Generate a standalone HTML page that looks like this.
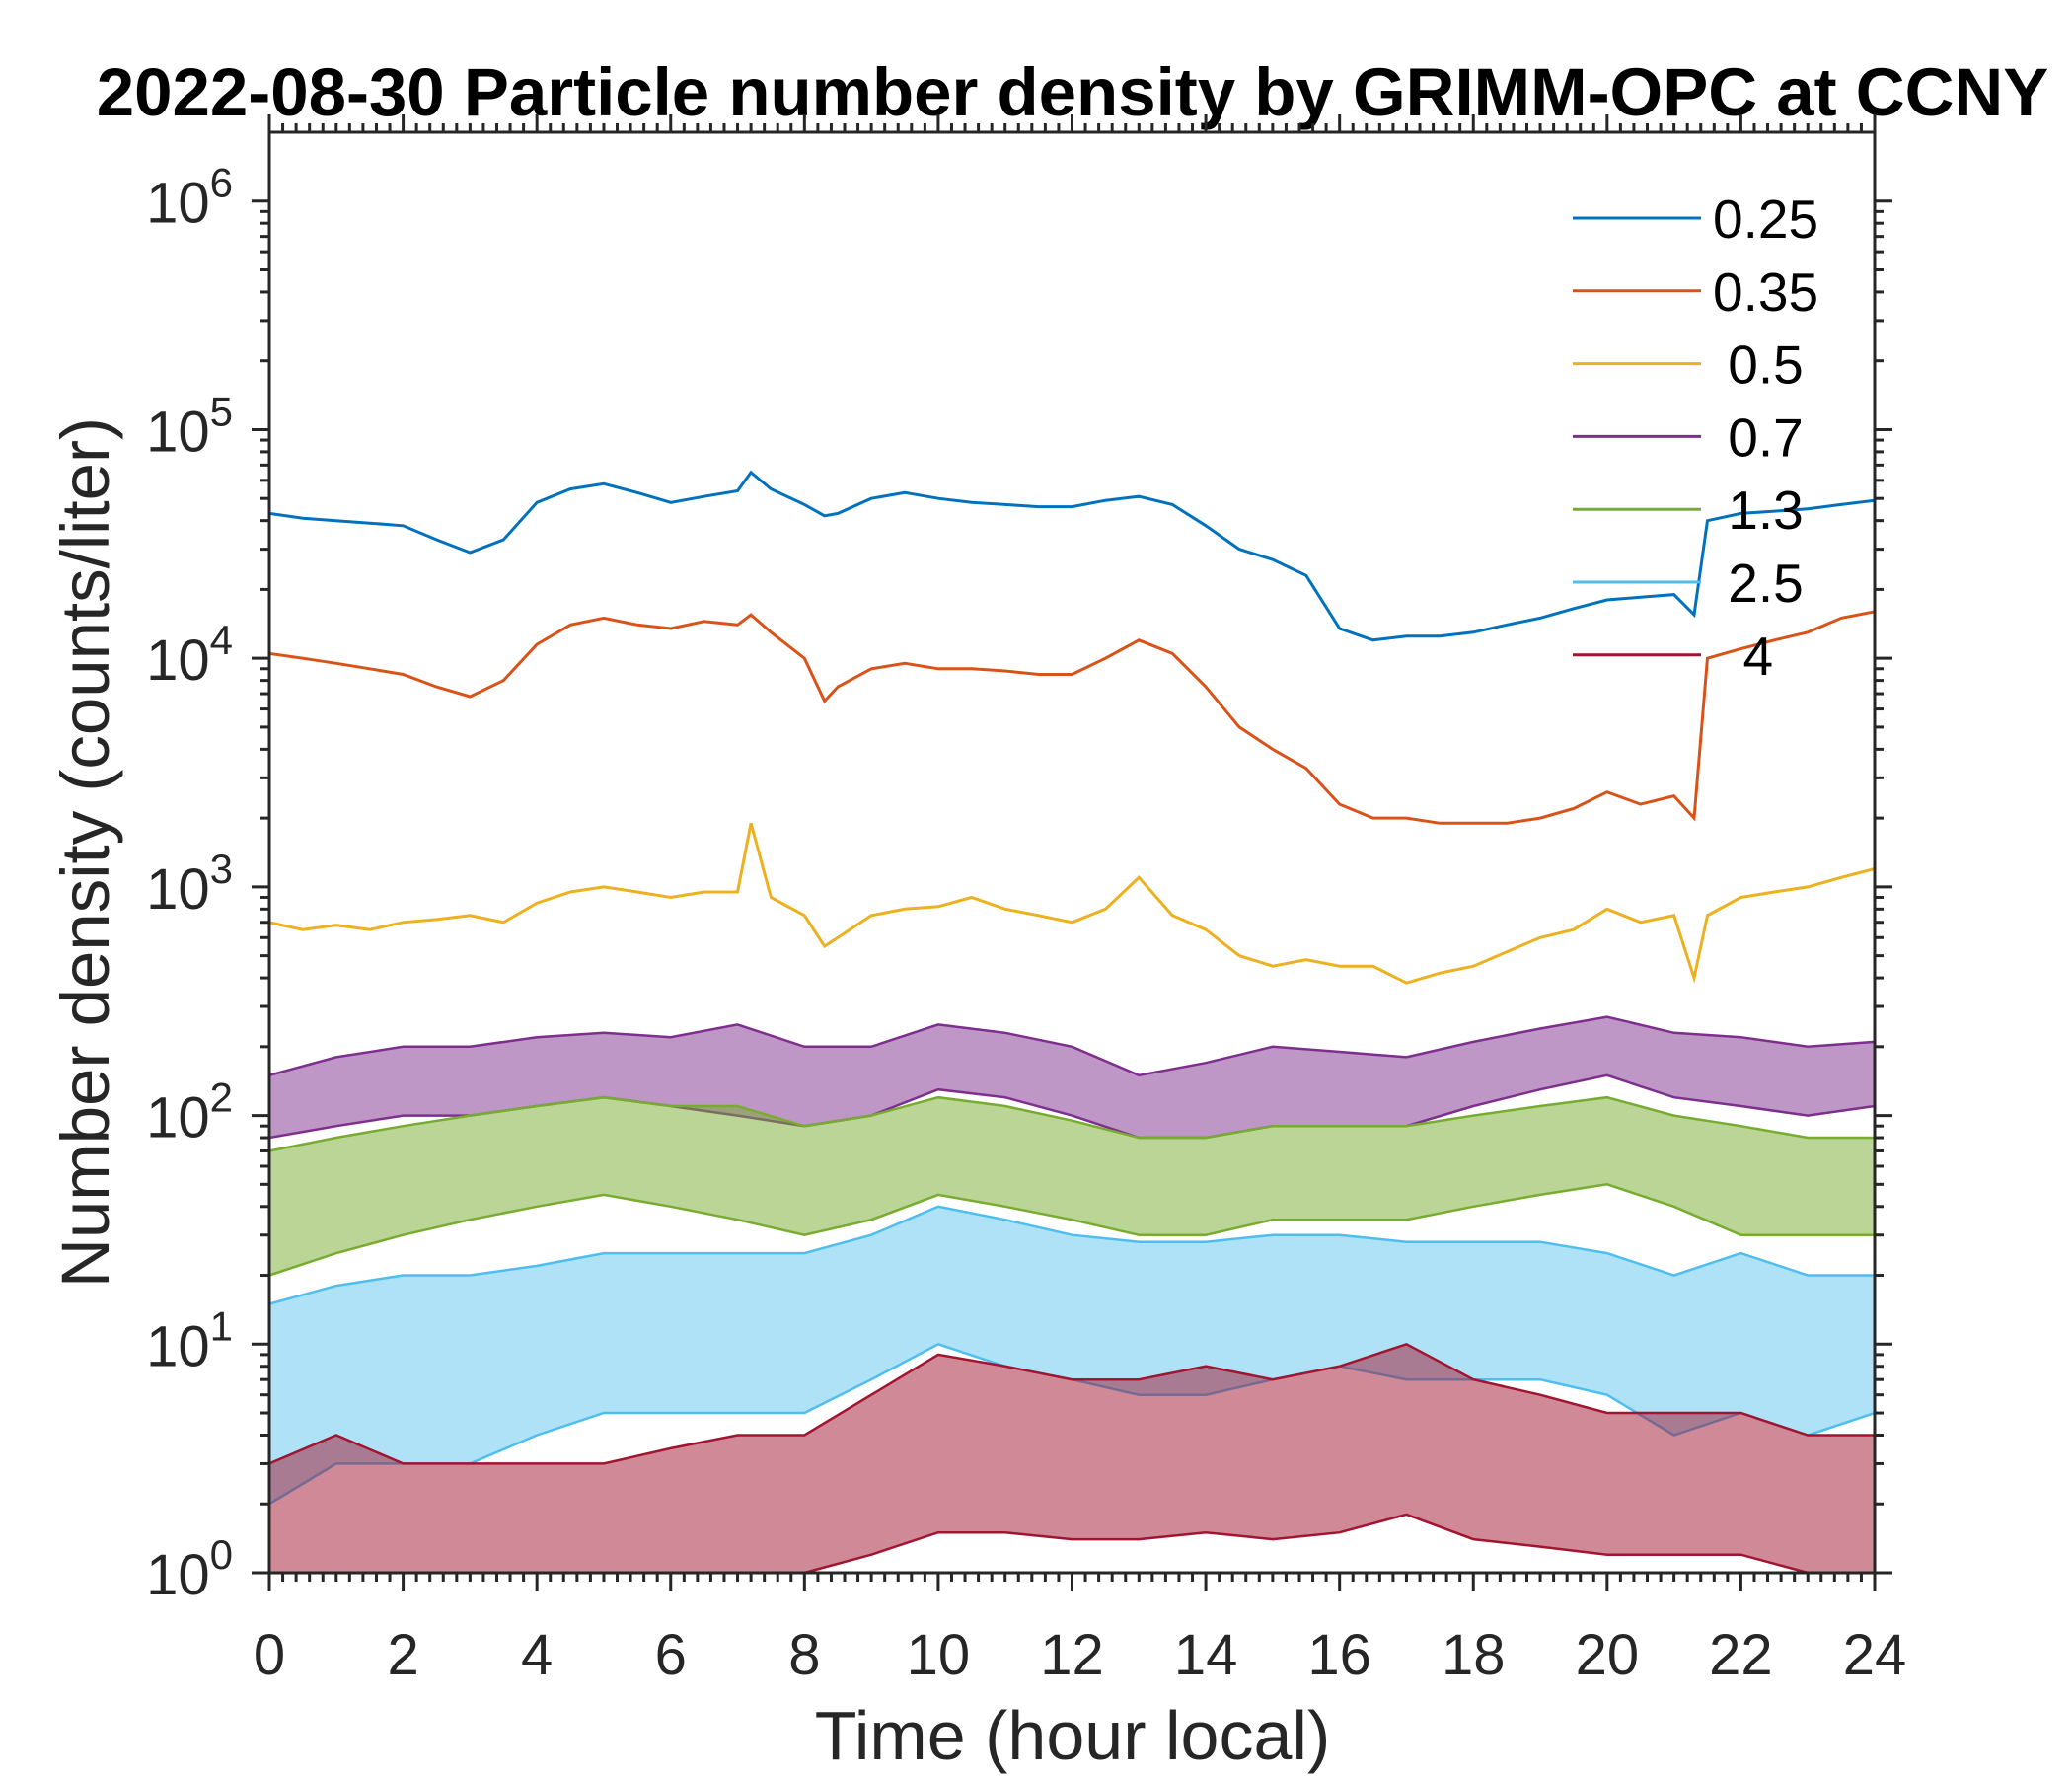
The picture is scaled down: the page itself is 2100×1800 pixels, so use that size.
<!DOCTYPE html>
<html><head><meta charset="utf-8"><style>
body{margin:0;background:#fff}
svg{display:block}
text{font-family:"Liberation Sans",Arial,sans-serif;fill:#262626}
</style></head><body>
<svg id="chart" width="2100" height="1800" viewBox="0 0 2100 1800" xmlns="http://www.w3.org/2000/svg">
<rect width="2100" height="1800" fill="#fff"/>
<text x="1087" y="117" text-anchor="middle" font-size="69" font-weight="bold" style="fill:#000">2022-08-30 Particle number density by GRIMM-OPC at CCNY</text>
<text x="1087" y="1783" text-anchor="middle" font-size="70">Time (hour local)</text>
<text transform="translate(110,864) rotate(-90)" text-anchor="middle" font-size="69">Number density (counts/liter)</text>
<g id="plot"></g>
</svg>
<script>
// ---- data ----
const smoothHours = [0,0.5,1,1.5,2,2.5,3,3.5,4,4.5,5,5.5,6,6.5,7,7.2,7.5,8,8.3,8.5,9,9.5,10,10.5,11,11.5,12,12.5,13,13.5,14,14.5,15,15.5,16,16.5,17,17.5,18,18.5,19,19.5,20,20.5,21,21.3,21.5,22,22.5,23,23.5,24];
const s025 = [43000,41000,40000,39000,38000,33000,29000,33000,48000,55000,58000,53000,48000,51000,54000,65000,55000,47000,42000,43000,50000,53000,50000,48000,47000,46000,46000,49000,51000,47000,38000,30000,27000,23000,13500,12000,12500,12500,13000,14000,15000,16500,18000,18500,19000,15500,40000,43000,44000,45000,47000,49000];
const s035 = [10500,10000,9500,9000,8500,7500,6800,8000,11500,14000,15000,14000,13500,14500,14000,15500,13000,10000,6500,7500,9000,9500,9000,9000,8800,8500,8500,10000,12000,10500,7500,5000,4000,3300,2300,2000,2000,1900,1900,1900,2000,2200,2600,2300,2500,2000,10000,11000,12000,13000,15000,16000];
const s05 = [700,650,680,650,700,720,750,700,850,950,1000,950,900,950,950,1900,900,750,550,600,750,800,820,900,800,750,700,800,1100,750,650,500,450,480,450,450,380,420,450,520,600,650,800,700,750,400,750,900,950,1000,1100,1200];
const bandHours = [0,1,2,3,4,5,6,7,8,9,10,11,12,13,14,15,16,17,18,19,20,21,22,23,24];
const s07Lo = [80,90,100,100,110,120,110,100,90,100,130,120,100,80,80,90,90,90,110,130,150,120,110,100,110];
const s07Hi = [150,180,200,200,220,230,220,250,200,200,250,230,200,150,170,200,190,180,210,240,270,230,220,200,210];
const s13Lo = [20,25,30,35,40,45,40,35,30,35,45,40,35,30,30,35,35,35,40,45,50,40,30,30,30];
const s13Hi = [70,80,90,100,110,120,110,110,90,100,120,110,95,80,80,90,90,90,100,110,120,100,90,80,80];
const s25Lo = [2,3,3,3,4,5,5,5,5,7,10,8,7,6,6,7,8,7,7,7,6,4,5,4,5];
const s25Hi = [15,18,20,20,22,25,25,25,25,30,40,35,30,28,28,30,30,28,28,28,25,20,25,20,20];
const s4Lo = [1,1,1,1,1,1,1,1,1,1.2,1.5,1.5,1.4,1.4,1.5,1.4,1.5,1.8,1.4,1.3,1.2,1.2,1.2,1,1];
const s4Hi = [3,4,3,3,3,3,3.5,4,4,6,9,8,7,7,8,7,8,10,7,6,5,5,5,4,4];
const legendLabels = ['0.25','0.35',' 0.5',' 0.7',' 1.3',' 2.5','  4'];
const colors = ['#0072BD','#D95319','#EDB120','#7E2F8E','#77AC30','#4DBEEE','#A2142F'];
const xTicks = [0,2,4,6,8,10,12,14,16,18,20,22,24];
const yDecades = [0,1,2,3,4,5,6];

// ---- axes ----
const L=273,R=1900,T=134,B=1594,yMaxLog=6.301;
const X=h=>L+(h/24)*(R-L);
const Y=v=>{const lv=Math.max(0,Math.log10(v));return B-(lv/yMaxLog)*(B-T);};
const NS='http://www.w3.org/2000/svg';
const g=document.getElementById('plot');
function mk(tag,attrs,parent){const e=document.createElementNS(NS,tag);for(const k in attrs)e.setAttribute(k,attrs[k]);(parent||g).appendChild(e);return e;}

const clip=mk('clipPath',{id:'clipArea'});
mk('rect',{x:L,y:T,width:R-L,height:B-T},clip);
const series=mk('g',{'clip-path':'url(#clipArea)'});



function bandPath(hours,lo,hi){
  let d='M'+hours.map((h,i)=>X(h).toFixed(1)+','+Y(hi[i]).toFixed(1)).join('L');
  for(let i=hours.length-1;i>=0;i--)d+='L'+X(hours[i]).toFixed(1)+','+Y(lo[i]).toFixed(1);
  return d+'Z';
}
function linePath(hours,v){return 'M'+hours.map((h,i)=>X(h).toFixed(1)+','+Y(v[i]).toFixed(1)).join('L');}

[[s07Lo,s07Hi,3,'band-0-7um',0.5],[s13Lo,s13Hi,4,'band-1-3um',0.5],[s25Lo,s25Hi,5,'band-2-5um',0.45],[s4Lo,s4Hi,6,'band-4um',0.5]].forEach(b=>{
  const p=mk('path',{d:bandPath(bandHours,b[0],b[1]),fill:colors[b[2]],'fill-opacity':b[4],stroke:colors[b[2]],'stroke-width':'2.5'},series);
  
  
});
[[s05,2,'line-0-5um'],[s035,1,'line-0-35um'],[s025,0,'line-0-25um']].forEach(s=>{
  const p=mk('path',{d:linePath(smoothHours,s[0]),fill:'none',stroke:colors[s[1]],'stroke-width':'3'},series);
  
  
});

// axes box and ticks
const ax=mk('g',{stroke:'#262626','stroke-width':'3',fill:'none'});


mk('rect',{x:L,y:T,width:R-L,height:B-T},ax);
for(let k=0;k<=120;k++){
  const h=k*0.2,x=X(h),len=(k%10===0)?18:9;
  mk('line',{x1:x,y1:B,x2:x,y2:B+len},ax);
  mk('line',{x1:x,y1:T,x2:x,y2:T-len},ax);
}
for(let d=0;d<=6;d++){
  for(let m=1;m<=9;m++){
    const v=m*Math.pow(10,d);if(Math.log10(v)>yMaxLog)break;
    const y=Y(v),len=m===1?18:9;
    mk('line',{x1:L,y1:y,x2:L-len,y2:y},ax);
    mk('line',{x1:R,y1:y,x2:R+len,y2:y},ax);
  }
}
xTicks.forEach(h=>{
  const t=mk('text',{x:X(h),y:1697,'text-anchor':'middle','font-size':'58'});
  t.textContent=h;
  
  
});
yDecades.forEach(d=>{
  const t=mk('text',{x:236,y:Y(Math.pow(10,d))+22,'text-anchor':'end','font-size':'58'});
  
  
  const a=document.createElementNS(NS,'tspan');a.textContent='10';t.appendChild(a);
  const b=document.createElementNS(NS,'tspan');b.textContent=d;b.setAttribute('dy','-26');b.setAttribute('font-size','42');t.appendChild(b);
});

// legend
const lg=mk('g',{});


legendLabels.forEach((lab,i)=>{
  const y=221+i*73.8;
  const ln=mk('line',{x1:1594,y1:y,x2:1724,y2:y,stroke:colors[i],'stroke-width':'3'},lg);
  
  
  const t=mk('text',{x:1736,y:y+20,'font-size':'55','xml:space':'preserve'},lg);
  t.setAttribute('style','white-space:pre;fill:#000');
  t.textContent=lab;
  
  
});
</script>
</body></html>
